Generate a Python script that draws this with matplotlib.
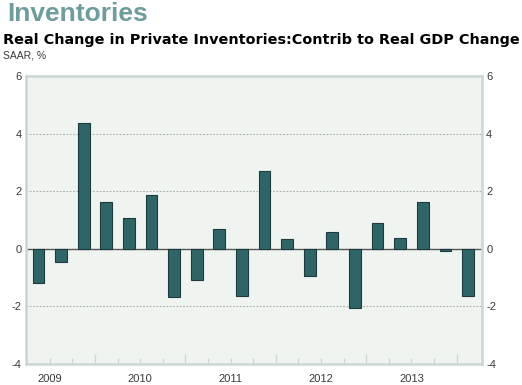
import numpy as np
import matplotlib
matplotlib.use("Agg")
import matplotlib.pyplot as plt
from matplotlib.ticker import FixedLocator

# quarterly values, 2009Q2 .. 2014Q1
quarters = ['2009Q2', '2009Q3', '2009Q4',
            '2010Q1', '2010Q2', '2010Q3', '2010Q4',
            '2011Q1', '2011Q2', '2011Q3', '2011Q4',
            '2012Q1', '2012Q2', '2012Q3', '2012Q4',
            '2013Q1', '2013Q2', '2013Q3', '2013Q4',
            '2014Q1']
values = [-1.17, -0.45, 4.36, 1.63, 1.07, 1.86, -1.68, -1.07, 0.70, -1.65,
          2.70, 0.33, -0.95, 0.59, -2.04, 0.90, 0.38, 1.64, -0.08, -1.65]
years = ['2009', '2010', '2011', '2012', '2013']
yticks = [-4, -2, 0, 2, 4, 6]


def qpos(q):
    # quarter index counted from 2009Q1 = 0
    return (int(q[:4]) - 2009) * 4 + int(q[-1]) - 1


x = np.array([qpos(q) for q in quarters])
year_pos = [(int(y) - 2009) * 4 + 1.5 for y in years]

bar_color = '#2f6567'
edge_color = '#1d3b3c'
bg_color = '#eff4f1'
frame_color = '#cbd7d6'
text_color = '#3a3a3a'

fig = plt.figure(figsize=(5.22, 3.85), dpi=100)
ax = fig.add_axes([0.0498, 0.0545, 0.8736, 0.748])
ax.set_facecolor(bg_color)

ax.bar(x, values, width=0.52, color=bar_color, edgecolor=edge_color,
       linewidth=0.8, zorder=3)
ax.axhline(0, color='#555555', linewidth=1.0, zorder=2)
for v in [-2, 2, 4]:
    ax.axhline(v, color='#a8aeab', linewidth=0.8, linestyle=(0, (1.5, 1.5)),
               zorder=1)

xmin, xmax = 0.447, 20.62
ax.set_xlim(xmin, xmax)
ax.set_ylim(-4, 6)

for s in ax.spines.values():
    s.set_color(frame_color)
    s.set_linewidth(1.8)

# y ticks on both sides
ax.set_yticks(yticks)
ax.set_yticklabels([str(v) for v in yticks])
ax.tick_params(axis='y', which='both', length=0, pad=3, labelsize=8,
               labelcolor=text_color, left=True, right=True,
               labelleft=True, labelright=True)
for lab in ax.get_yticklabels():
    lab.set_family('Liberation Sans')

# x: year boundary ticks (major, taller), quarter ticks (minor)
bounds = [b + 0.5 for b in range(0, 20)]
major = [b for b in bounds if b % 4 == 3.5]
minor = [b for b in bounds if b % 4 != 3.5]
ax.xaxis.set_major_locator(FixedLocator(major))
ax.xaxis.set_minor_locator(FixedLocator(minor))
ax.set_xticklabels([])
ax.tick_params(axis='x', which='major', direction='in', length=7,
               color=frame_color, width=1.0)
ax.tick_params(axis='x', which='minor', direction='in', length=4,
               color=frame_color, width=1.0)
for p, yr in zip(year_pos, years):
    ax.text(p, -4.35, yr, ha='center', va='top', fontsize=8,
            family='Liberation Sans', color=text_color)

fig.text(0.013, 0.995, 'Inventories', ha='left', va='top', fontsize=19,
         family='Liberation Sans', fontweight='bold', color='#6f9c9d')
fig.text(0.006, 0.915, 'Real Change in Private Inventories:Contrib to Real GDP Change',
         ha='left', va='top', fontsize=10.35, family='DejaVu Sans',
         fontweight='bold', color='black')
fig.text(0.006, 0.868, 'SAAR, %', ha='left', va='top', fontsize=7.5,
         family='Liberation Sans', color=text_color)

fig.savefig('out.png', dpi=100)
